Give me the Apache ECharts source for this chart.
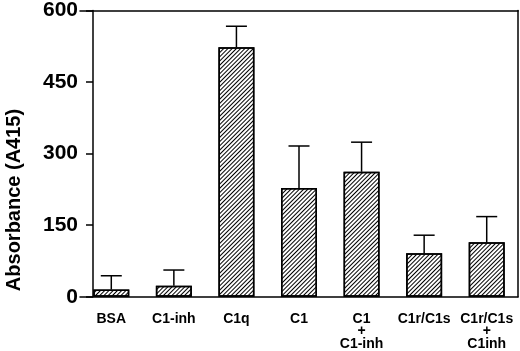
<!DOCTYPE html>
<html>
<head>
<meta charset="utf-8">
<script src="https://cdn.jsdelivr.net/npm/echarts@6/dist/echarts.min.js"></script>
<style>
  html, body { margin: 0; padding: 0; background: #fff; }
  #chart { width: 520px; height: 351px; }
</style>
</head>
<body>
<div id="chart"></div>
<script>
// 样品类别
const categories = ["BSA", "C1-inh", "C1q", "C1", "C1\n+\nC1-inh", "C1r/C1s", "C1r/C1s\n+\nC1inh"];
// 吸光度均值
const values = [15, 23, 523, 228, 262, 91, 114];
// 误差（仅向上）
const errors = [29, 33, 44, 88, 62, 38, 54];
const yTicks = [0, 150, 300, 450, 600];
const yTitle = "Absorbance (A415)";

const chart = echarts.init(document.getElementById("chart"));

const option = {
  backgroundColor: "#fff",
  animation: false,
  graphic: [
    {
      type: "text",
      x: 14,
      y: 200,
      rotation: Math.PI / 2,
      style: {
        text: yTitle,
        fill: "#000",
        font: "bold 20px 'Liberation Sans'",
        align: "center",
        verticalAlign: "middle",
      },
    },
  ],
  grid: { left: 80, right: 2, top: 10, bottom: 53 },
  xAxis: [
    {
      type: "category",
      data: categories,
      axisLine: { onZero: false, lineStyle: { color: "#000", width: 1.5 } },
      axisTick: { show: false },
      axisLabel: {
        color: "#000",
        fontFamily: "Liberation Sans",
        fontWeight: "bold",
        fontSize: 14,
        lineHeight: 12.5,
        margin: 16,
        interval: 0,
      },
    },
    {
      type: "category",
      position: "top",
      data: categories,
      axisLine: { onZero: false, lineStyle: { color: "#000", width: 1.5 } },
      axisTick: { show: false },
      axisLabel: { show: false },
    },
  ],
  yAxis: [
    {
      type: "value",
      min: yTicks[0],
      max: yTicks[yTicks.length - 1],
      interval: 150,
      offset: -13,
      axisLine: { show: true, lineStyle: { color: "#000", width: 1.5 } },
      axisTick: { show: true, length: 7, lineStyle: { color: "#000", width: 1.5 } },
      axisLabel: {
        color: "#000",
        fontFamily: "Liberation Sans",
        fontWeight: "bold",
        fontSize: 21,
        margin: 15,
      },
      splitLine: { show: false },
    },
    {
      type: "value",
      position: "right",
      min: 0,
      max: 600,
      interval: 150,
      axisLine: { show: true, lineStyle: { color: "#000", width: 1.5 } },
      axisTick: { show: false },
      axisLabel: { show: false },
      splitLine: { show: false },
    },
  ],
  series: [
    {
      type: "bar",
      data: values,
      barWidth: 36,
      itemStyle: {
        color: "#fff",
        borderColor: "#000",
        borderWidth: 1.5,
        decal: {
          symbol: "rect",
          color: "#000",
          dashArrayX: [1, 0],
          dashArrayY: [1, 1.8],
          rotation: -Math.PI / 4,
        },
      },
    },
    {
      type: "custom",
      data: values.map((v, i) => [i, v, v + errors[i]]),
      renderItem: function (params, api) {
        const base = api.coord([api.value(0), api.value(1)]);
        const top = api.coord([api.value(0), api.value(2)]);
        const half = 10.5;
        const style = { stroke: "#000", lineWidth: 1.5 };
        return {
          type: "group",
          children: [
            { type: "line", shape: { x1: base[0], y1: base[1], x2: top[0], y2: top[1] }, style: style },
            { type: "line", shape: { x1: top[0] - half, y1: top[1], x2: top[0] + half, y2: top[1] }, style: style },
          ],
        };
      },
      z: 3,
    },
  ],
};

chart.setOption(option);
</script>
</body>
</html>
